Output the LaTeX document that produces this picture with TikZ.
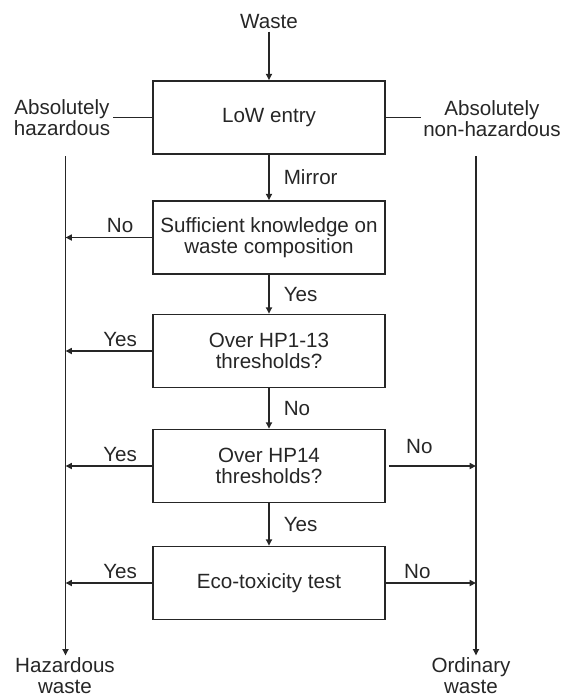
\documentclass[tikz,border=0pt]{standalone}
\usepackage{fontspec}
\setmainfont{Liberation Sans}
\usepackage{tikz}
\usetikzlibrary{arrows.meta,positioning,calc}

\begin{document}
\begin{tikzpicture}[
    x=0.5pt, y=-0.5pt,
    every node/.style={font=\fontsize{10.3}{10.6}\selectfont, text=black!85},
    stage/.style={draw=black!85, line width=0.8pt, minimum width=116pt, minimum height=36.5pt, inner sep=0pt, align=center},
    term/.style={align=center, inner sep=1pt},
    lbl/.style={inner sep=2pt},
    ln/.style={draw=black!85, line width=0.8pt},
    arr/.style={ln, -{Triangle[length=3.2pt, width=3pt]}},
]
    \useasboundingbox (0,0) rectangle (564,698);

    \node[term]  (waste)  at (269, 22)   {Waste};
    \node[stage] (low)    at (269,117.5) {LoW entry};
    \node[stage] (know)   at (269,237.5) {Sufficient knowledge on\\waste composition};
    \node[stage] (hp)     at (269,351)   {Over HP1-13\\thresholds?};
    \node[stage] (hpf)    at (269,466)   {Over HP14\\thresholds?};
    \node[stage] (eco)    at (269,583)   {Eco-toxicity test};
    \node[term]  (abshaz) at ( 62,118)   {Absolutely\\hazardous};
    \node[term]  (absnon) at (492,119)   {Absolutely\\non-hazardous};
    \node[term]  (hazw)   at ( 65,676)   {Hazardous\\waste};
    \node[term]  (ordw)   at (471,676)   {Ordinary\\waste};

    \coordinate (hl) at (65.5,156);
    \coordinate (hr) at (476,156);

    % main chain
    \draw[arr] (waste) -- (low);
    \draw[arr] (low)  -- (know) node[lbl, midway, right=5pt] {Mirror};
    \draw[arr] (know) -- (hp)   node[lbl, midway, right=5pt] {Yes};
    \draw[arr] (hp)   -- (hpf)  node[lbl, midway, right=5pt] {No};
    \draw[arr] (hpf)  -- (eco)  node[lbl, midway, right=5pt] {Yes};

    % entry shortcuts
    \draw[ln] (low.west) -- (low.west -| abshaz.east);
    \draw[ln] (low.east) -- (low.east -| absnon.west);
    \draw[arr] (hl) -- (hl |- hazw.north);
    \draw[arr] (hr) -- (hr |- ordw.north);

    % to hazardous
    \draw[arr] (know.west) -- (know.west -| hl) node[lbl, pos=0.37, above] {No};
    \draw[arr] (hp.west)   -- (hp.west -| hl)   node[lbl, pos=0.37, above] {Yes};
    \draw[arr] (hpf.west)  -- (hpf.west -| hl)  node[lbl, pos=0.37, above] {Yes};
    \draw[arr] (eco.west)  -- (eco.west -| hl)  node[lbl, pos=0.37, above] {Yes};

    % to ordinary
    \draw[arr] ([xshift=1.5pt]hpf.east) -- (hpf.east -| hr) node[lbl, pos=0.35, above=4pt] {No};
    \draw[arr] (eco.east) -- (eco.east -| hr) node[lbl, pos=0.35, above] {No};
\end{tikzpicture}
\end{document}
